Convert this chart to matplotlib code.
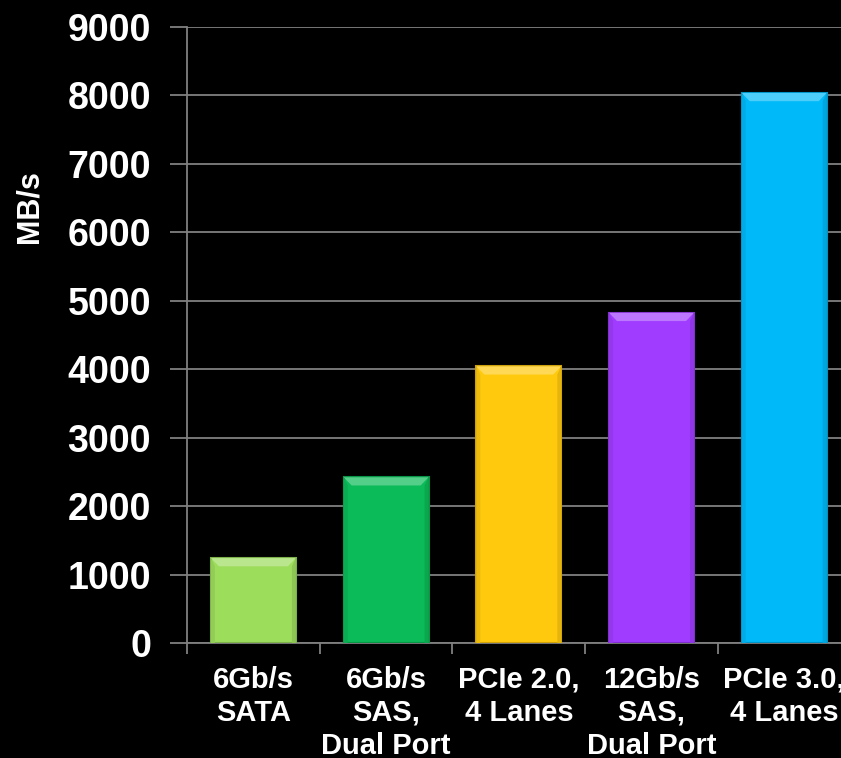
import numpy as np
import matplotlib.pyplot as plt
from matplotlib.patches import Polygon
from matplotlib.colors import to_rgb

plt.rcParams['font.family'] = ['Liberation Sans', 'DejaVu Sans']
plt.rcParams['font.weight'] = 'bold'

# data
labels = ['6Gb/s\nSATA', '6Gb/s\nSAS,\nDual Port', 'PCIe 2.0,\n4 Lanes',
          '12Gb/s\nSAS,\nDual Port', 'PCIe 3.0,\n4 Lanes']
values = [1240, 2420, 4040, 4820, 8030]
colors = ['#9DDD5C', '#0BBA58', '#FFC90E', '#A03CFF', '#00B9F8']
yticks = [0, 1000, 2000, 3000, 4000, 5000, 6000, 7000, 8000, 9000]

fig = plt.figure(figsize=(8.41, 7.58), dpi=100, facecolor='black')
ax = fig.add_axes([0.2224, 0.1517, 0.789, 0.8133])
ax.set_facecolor('black')

x = np.arange(len(values))
w = 0.64


def shade(c, f):
    r, g, b = to_rgb(c)
    if f > 1:
        return (r + (1 - r) * (f - 1), g + (1 - g) * (f - 1), b + (1 - b) * (f - 1))
    return (r * f, g * f, b * f)


ax.bar(x, values, width=w, color=colors, edgecolor=[shade(c, 0.8) for c in colors],
       linewidth=1.5, zorder=3)

# bevel on top of each bar
dx, dy = 0.06, 120
for xi, v, c in zip(x, values, colors):
    top = Polygon([(xi - w / 2, v), (xi + w / 2, v), (xi + w / 2 - dx, v - dy),
                   (xi - w / 2 + dx, v - dy)], closed=True,
                  facecolor=shade(c, 1.3), edgecolor='none', zorder=4)
    ax.add_patch(top)
    left = Polygon([(xi - w / 2, v), (xi - w / 2 + dx * 0.5, v - dy), (xi - w / 2 + dx * 0.5, 0),
                    (xi - w / 2, 0)], closed=True,
                   facecolor=shade(c, 0.93), edgecolor='none', zorder=4)
    ax.add_patch(left)
    right = Polygon([(xi + w / 2, v), (xi + w / 2 - dx * 0.5, v - dy), (xi + w / 2 - dx * 0.5, 0),
                     (xi + w / 2, 0)], closed=True,
                    facecolor=shade(c, 0.9), edgecolor='none', zorder=4)
    ax.add_patch(right)

ax.set_xlim(-0.5, len(values) - 0.5)
ax.set_ylim(0, 9000)
ax.set_yticks(yticks)
ax.set_yticklabels([str(t) for t in yticks], fontsize=27, fontweight='bold', color='white')
ax.set_xticks(x)
ax.set_xticklabels(labels, fontsize=21, fontweight='bold', color='white', linespacing=1.22)
ax.set_xticks(np.arange(len(values) + 1) - 0.5, minor=True)
ax.tick_params(axis='x', which='major', length=0, pad=16.5)
ax.tick_params(axis='x', which='minor', length=8, width=1.3, color='#808080')
ax.tick_params(axis='y', length=12, width=1.3, color='#808080', pad=14)

ax.grid(axis='y', color='#808080', linewidth=1.3, zorder=0)
ax.set_axisbelow(True)
for s in ['top', 'right']:
    ax.spines[s].set_visible(False)
for s in ['left', 'bottom']:
    ax.spines[s].set_color('#808080')
    ax.spines[s].set_linewidth(1.3)

fig.text(0.0345, 0.727, 'MB/s', rotation=90, ha='center', va='center',
         fontsize=22, fontweight='bold', color='white')

fig.savefig('out.png', dpi=100, facecolor='black')
